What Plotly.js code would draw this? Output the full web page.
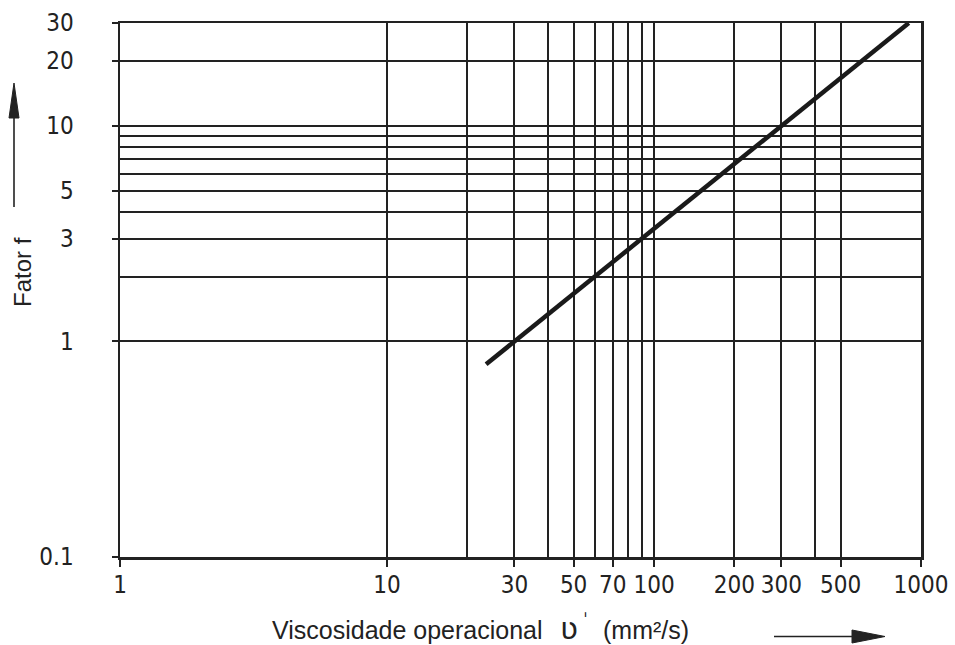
<!DOCTYPE html>
<html>
<head>
<meta charset="utf-8">
<script src="https://cdn.plot.ly/plotly-3.0.1.min.js"></script>
<style>
html,body{margin:0;padding:0;background:#fff;}
#chart{width:955px;height:645px;}
</style>
</head>
<body>
<div id="chart"></div>
<script>
// Data
const viscosity = [23.5, 900];      // mm²/s
const factorF   = [0.783, 30];      // Fator f

// Axis tick values / labels
const xTickVals  = [1, 10, 30, 50, 70, 100, 200, 300, 500, 1000];
const xTickText  = ['1', '10', '30', '50', '70', '100', '200', '300', '500', '1000'];
const xGridExtra = [20, 40, 60, 80, 90, 400];
const yTickVals  = [0.1, 1, 3, 5, 10, 20, 30];
const yTickText  = ['0.1', '1', '3', '5', '10', '20', '30'];
const yGridExtra = [2, 4, 6, 7, 8, 9];

const ink = '#222222';
const tickFont = {family: '"Liberation Sans Narrow", "DejaVu Sans Condensed", "DejaVu Sans", sans-serif', size: 24, color: ink};

const trace = {
  x: viscosity, y: factorF, type: 'scatter', mode: 'lines',
  line: {color: '#1a1a1a', width: 4.5},
  hoverinfo: 'skip', showlegend: false
};

// paper coords helpers (plot area: 801 x 534 px)
const W = 801, H = 534;
const px = v => (v - 120) / W;
const py = v => (557 - v) / H;

const shapes = [
  // vertical arrow (left)
  {type: 'line', xref: 'paper', yref: 'paper', x0: px(14), x1: px(14), y0: py(207), y1: py(115), line: {color: ink, width: 1.6}},
  {type: 'path', xref: 'paper', yref: 'paper',
   path: `M ${px(9)} ${py(118)} L ${px(19)} ${py(118)} L ${px(14)} ${py(83)} Z`,
   fillcolor: ink, line: {color: ink, width: 1}},
  // horizontal arrow (bottom right)
  {type: 'line', xref: 'paper', yref: 'paper', x0: px(774), x1: px(855), y0: py(636.5), y1: py(636.5), line: {color: ink, width: 1.6}},
  {type: 'path', xref: 'paper', yref: 'paper',
   path: `M ${px(852)} ${py(630)} L ${px(852)} ${py(643)} L ${px(885)} ${py(636.5)} Z`,
   fillcolor: ink, line: {color: ink, width: 1}}
];

const annotations = [
  {text: 'Viscosidade operacional', xref: 'paper', yref: 'paper',
   x: px(270), y: py(630), xanchor: 'left', yanchor: 'middle', showarrow: false,
   font: {family: '"Liberation Sans", Arial, sans-serif', size: 25, color: ink}},
  {text: 'ʋ', xref: 'paper', yref: 'paper',
   x: px(569), y: py(628), xanchor: 'center', yanchor: 'middle', showarrow: false,
   font: {family: '"DejaVu Sans", sans-serif', size: 30, color: ink}},
  {text: '\u02c8', xref: 'paper', yref: 'paper',
   x: px(585), y: py(619), xanchor: 'center', yanchor: 'middle', showarrow: false,
   font: {family: '"DejaVu Sans", sans-serif', size: 18, color: ink}},
  {text: '(mm²/s)', xref: 'paper', yref: 'paper',
   x: px(601), y: py(630), xanchor: 'left', yanchor: 'middle', showarrow: false,
   font: {family: '"Liberation Sans", Arial, sans-serif', size: 25, color: ink}},
  {text: 'Fator f', xref: 'paper', yref: 'paper', textangle: -90,
   x: px(22), y: py(272), xanchor: 'center', yanchor: 'middle', showarrow: false,
   font: {family: '"Liberation Sans", Arial, sans-serif', size: 24, color: ink}}
];

const layout = {
  width: 955, height: 645,
  margin: {l: 120, r: 34, t: 23, b: 88},
  paper_bgcolor: '#ffffff', plot_bgcolor: '#ffffff',
  showlegend: false,
  xaxis: {
    type: 'log', range: [0, 3],
    tickmode: 'array', tickvals: xTickVals, ticktext: xTickText,
    ticks: 'outside', ticklen: 7, tickwidth: 2, tickcolor: ink,
    showgrid: true, gridcolor: ink, gridwidth: 2,
    showline: true, linecolor: ink, linewidth: 2.5, mirror: true,
    zeroline: false, tickfont: tickFont, ticklabelstandoff: -2,
    minor: {tickmode: 'array', tickvals: xGridExtra, showgrid: true, gridcolor: ink, gridwidth: 2, ticks: ''}
  },
  yaxis: {
    type: 'log', range: [-1, Math.log10(30)],
    tickmode: 'array', tickvals: yTickVals, ticktext: yTickText,
    ticks: 'outside', ticklen: 6, tickwidth: 2, tickcolor: ink,
    showgrid: true, gridcolor: ink, gridwidth: 2,
    showline: true, linecolor: ink, linewidth: 2.5, mirror: true,
    zeroline: false, tickfont: tickFont, ticklabelstandoff: 33,
    minor: {tickmode: 'array', tickvals: yGridExtra, showgrid: true, gridcolor: ink, gridwidth: 2, ticks: ''}
  },
  shapes: shapes,
  annotations: annotations
};

Plotly.newPlot('chart', [trace], layout, {staticPlot: true, displayModeBar: false});
</script>
</body>
</html>
